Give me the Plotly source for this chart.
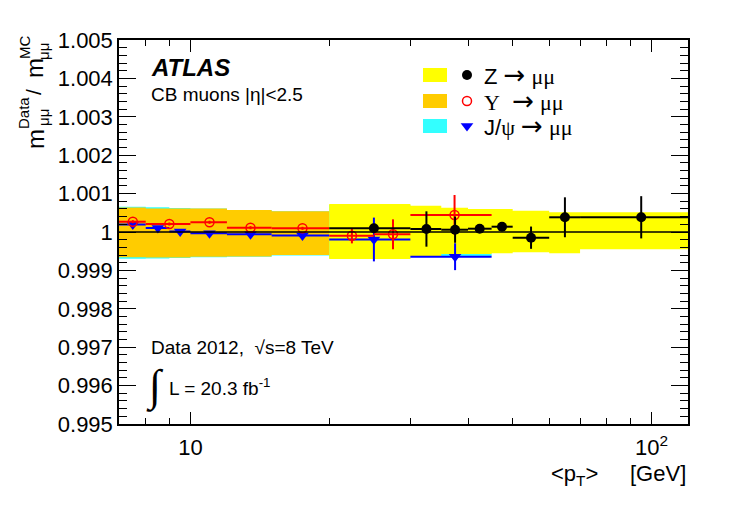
import plotly.graph_objects as go

# Z -> mumu (black points, yellow band)
z_lo = [20, 30, 35, 40, 45, 50, 60, 70]
z_hi = [30, 35, 40, 45, 50, 60, 70, 120]
z_pt = [25, 32.5, 37.5, 42.4, 47.4, 54.8, 64.9, 95]
z_val = [1.000096, 1.000078, 1.00006, 1.000086, 1.000138, 0.999852, 1.000383, 1.000383]
z_err = [0.0001, 0.00046, 0.00034, 0.0001, 0.00008, 0.00029, 0.00052, 0.00055]
z_band_dn = [0.999297, 0.999375, 0.999427, 0.999427, 0.999445, 0.999471, 0.999445, 0.99955]
z_band_up = [1.000729, 1.000685, 1.000633, 1.000599, 1.000599, 1.000555, 1.000513, 1.000513]

# Upsilon -> mumu (red open circles, orange band)
u_lo = [7, 8, 10, 12, 15, 20, 25, 30]
u_hi = [8, 10, 12, 15, 20, 25, 30, 45]
u_pt = [7.5, 9.0, 11.0, 13.5, 17.5, 22.4, 27.5, 37.4]
u_val = [1.000268, 1.000208, 1.000253, 1.000112, 1.000096, 0.999904, 0.99994, 1.000443]
u_err = [0.00004, 0.00004, 0.00004, 0.00004, 0.00004, 0.0002, 0.00039, 0.00052]
u_band_lo = [7, 8, 10, 12, 15]
u_band_hi = [8, 10, 12, 15, 20]
u_band_dn = [0.999341, 0.999336, 0.999354, 0.999362, 0.999401]
u_band_up = [1.000638, 1.000612, 1.000612, 1.000573, 1.000539]

# J/psi -> mumu (blue down triangles, cyan band)
j_lo = [7, 8, 9, 10, 12, 15, 20, 30]
j_hi = [8, 9, 10, 12, 15, 20, 30, 45]
j_pt = [7.5, 8.5, 9.5, 11.0, 13.5, 17.5, 25, 37.5]
j_val = [1.000195, 1.000104, 1.000013, 0.999966, 0.99994, 0.999909, 0.999805, 0.999357]
j_err = [0.00004, 0.00004, 0.00004, 0.00004, 0.00004, 0.00004, 0.00057, 0.00035]
j_band_dn = [0.999305, 0.99931, 0.999322, 0.99934, 0.999355, 0.999388, 0.99931, 0.99937]
j_band_up = [1.000659, 1.000644, 1.000625, 1.000612, 1.000573, 1.000539, 1.00070, 1.00058]

y_ticks = [0.995, 0.996, 0.997, 0.998, 0.999, 1.0, 1.001, 1.002, 1.003, 1.004, 1.005]
y_labels = ["0.995", "0.996", "0.997", "0.998", "0.999", "1", "1.001", "1.002", "1.003", "1.004", "1.005"]

FONT = "Liberation Sans, Arial, sans-serif"
SERIF = "Liberation Serif, DejaVu Serif, serif"
# plot frame in window pixels (page has an 8 px body margin)
OFF = 8
L, R, T, B = 119, 688, 40, 424
W, H = 747 - 2 * OFF, 506 - 2 * OFF


def px(x):
    return (x - L) / (R - L)


def py(y):
    return (B - y) / (B - T)


def band(lo, hi, dn, up, color):
    xs, ys = [], []
    for a, b, d, u in zip(lo, hi, dn, up):
        xs += [a, b, b, a, a, None]
        ys += [d, d, u, u, d, None]
    return go.Scatter(x=xs, y=ys, mode="lines", fill="toself", fillcolor=color,
                      line=dict(width=0, color=color), hoverinfo="skip", showlegend=False)


def points(pt, lo, hi, val, err, color, marker):
    return go.Scatter(
        x=pt, y=val, mode="markers", showlegend=False,
        marker=marker,
        error_x=dict(type="data", symmetric=False,
                     array=[h - p for h, p in zip(hi, pt)],
                     arrayminus=[p - l for l, p in zip(lo, pt)],
                     color=color, thickness=2, width=0),
        error_y=dict(type="data", array=err, color=color, thickness=2, width=0),
    )


OPEN_RED = dict(symbol="circle-open", size=9, color="#ff0000",
                line=dict(color="#ff0000", width=1.5))

fig = go.Figure()
fig.add_trace(band(j_lo, j_hi, j_band_dn, j_band_up, "#33ffff"))
fig.add_trace(band(u_band_lo, u_band_hi, u_band_dn, u_band_up, "#ffcc00"))
fig.add_trace(band(z_lo, z_hi, z_band_dn, z_band_up, "#ffff00"))

fig.add_shape(type="line", xref="paper", yref="y", x0=0, x1=1, y0=1, y1=1,
              line=dict(color="black", width=1.5))

fig.add_trace(points(j_pt, j_lo, j_hi, j_val, j_err, "#0000ff",
                     dict(symbol="triangle-down", size=11, color="#0000ff")))
fig.add_trace(points(u_pt, u_lo, u_hi, u_val, u_err, "#ff0000", OPEN_RED))
fig.add_trace(points(z_pt, z_lo, z_hi, z_val, z_err, "black",
                     dict(symbol="circle", size=10, color="black")))

# legend
leg_rows = [75, 101, 126]
leg_cols = ["#ffff00", "#ffcc00", "#33ffff"]
tail = (" <span style='font-family:DejaVu Sans;font-size:26px'>→</span> "
        "<span style='font-family:%s'>μμ</span>" % SERIF)
leg_text = ["Z" + tail,
            "<span style='font-family:%s'>Υ</span> " % SERIF + tail,
            "J/<span style='font-family:%s'>ψ</span>" % SERIF + tail]
for yc, c, t in zip(leg_rows, leg_cols, leg_text):
    fig.add_shape(type="rect", xref="paper", yref="paper", x0=px(423), x1=px(447),
                  y0=py(yc + 7), y1=py(yc - 7), fillcolor=c, line=dict(width=0))
    fig.add_annotation(xref="paper", yref="paper", x=px(482), y=py(yc), text=t,
                       showarrow=False, xanchor="left", yanchor="middle",
                       font=dict(family=FONT, size=22, color="black"))
leg_marks = [dict(symbol="circle", size=10, color="black"),
             OPEN_RED,
             dict(symbol="triangle-down", size=11, color="#0000ff")]
for yc, m in zip(leg_rows, leg_marks):
    fig.add_trace(go.Scatter(x=[px(467)], y=[py(yc)], xaxis="x2", yaxis="y2",
                             mode="markers", marker=m, showlegend=False, hoverinfo="skip"))


def note(x, y, text, size, xanchor="left", angle=0, family=FONT):
    fig.add_annotation(xref="paper", yref="paper", x=px(x), y=py(y), text=text,
                       showarrow=False, xanchor=xanchor, yanchor="middle", textangle=angle,
                       font=dict(family=family, size=size, color="black"))


note(149, 67, "<b><i>ATLAS</i></b>", 24)
note(149, 95, "CB muons |η|&lt;2.5", 19)
note(149, 347, "Data 2012,  √s=8 TeV", 19)
note(144, 386, "∫", 44, family=SERIF)
note(167, 387, "L = 20.3 fb<sup>-1</sup>", 19)
note(549, 475, "&lt;p<sub>T</sub>&gt;", 22)
note(628, 473, "[GeV]", 22)

# rotated y-axis title pieces
note(35, 139, "m", 24, "center", -90)
note(24, 113, "Data", 15, "center", -90)
note(43, 118, "μμ", 15, "center", -90)
note(34, 92, "/", 21, "center", -90)
note(35, 68, "m", 24, "center", -90)
note(24, 48, "MC", 15, "center", -90)
note(43, 52, "μμ", 15, "center", -90)

fig.update_layout(
    width=W, height=H,
    margin=dict(l=L - OFF, r=W - (R - OFF), t=T - OFF, b=H - (B - OFF)),
    paper_bgcolor="white", plot_bgcolor="white",
    font=dict(family=FONT, size=22, color="black"),
    showlegend=False,
    xaxis=dict(type="log", range=[0.8451, 2.0792], showgrid=False, zeroline=False,
               showline=True, linecolor="black", linewidth=1.5, mirror="ticks",
               ticks="inside", ticklen=12, tickwidth=1.2, tickcolor="black",
               tickvals=[10, 100], ticktext=["10", "10<sup>2</sup>"],
               tickfont=dict(size=22), ticklabelstandoff=3,
               minor=dict(ticks="inside", ticklen=6, tickwidth=1.2, tickcolor="black",
                          tickvals=[8, 9, 20, 30, 40, 50, 60, 70, 80, 90], showgrid=False)),
    yaxis=dict(range=[0.995, 1.005], showgrid=False, zeroline=False,
               showline=True, linecolor="black", linewidth=1.5, mirror="ticks",
               ticks="inside", ticklen=17, tickwidth=1.2, tickcolor="black",
               tickvals=y_ticks, ticktext=y_labels, tickfont=dict(size=22),
               minor=dict(ticks="inside", ticklen=8, tickwidth=1.2, tickcolor="black",
                          dtick=0.0002, showgrid=False)),
    xaxis2=dict(overlaying="x", range=[0, 1], visible=False),
    yaxis2=dict(overlaying="y", range=[0, 1], visible=False),
)

fig.write_html("out.html")
